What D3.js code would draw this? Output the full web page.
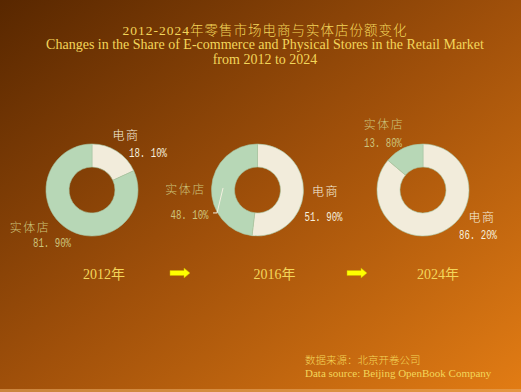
<!DOCTYPE html>
<html>
<head>
<meta charset="utf-8">
<script src="https://cdn.jsdelivr.net/npm/d3@7"></script>
<style>
  html, body { margin: 0; padding: 0; background: #5a2800; }
  svg { display: block; }
</style>
</head>
<body>
<div id="chart"></div>
<script>
// Data
const years = ["2012年", "2016年", "2024年"];
const seriesNames = ["电商", "实体店"];
const ecommerce = [18.1, 51.9, 86.2];
const physical = [81.9, 48.1, 13.8];

const width = 521, height = 392;

const svg = d3.select("#chart")
    .append("svg")
    .attr("width", width)
    .attr("height", height);

// Background gradient
const defs = svg.append("defs");
const grad = defs.append("linearGradient")
    .attr("id", "bg")
    .attr("x1", 0).attr("y1", 0)
    .attr("x2", 1).attr("y2", 1);
grad.append("stop").attr("offset", "0%").attr("stop-color", "#582700");
grad.append("stop").attr("offset", "50%").attr("stop-color", "#a0500a");
grad.append("stop").attr("offset", "100%").attr("stop-color", "#e27c14");

svg.append("rect")
    .attr("width", width)
    .attr("height", height)
    .attr("fill", "url(#bg)");

svg.append("rect")
    .attr("y", height - 3)
    .attr("width", width)
    .attr("height", 3)
    .attr("fill", "#e8a860")
    .attr("opacity", 0.6);

// Title
const serif = "'Liberation Serif', 'Noto Sans CJK SC', serif";
const gold = "#f3d65a";
const title = svg.append("text")
    .attr("text-anchor", "middle")
    .attr("fill", gold)
    .attr("font-family", serif)
    .attr("font-size", 14);
title.append("tspan").attr("x", 265).attr("y", 35)
    .attr("font-size", 13.5).attr("font-weight", 300).attr("letter-spacing", 1)
    .text("2012-2024年零售市场电商与实体店份额变化");
title.append("tspan").attr("x", 265).attr("y", 49).attr("letter-spacing", 0)
    .text("Changes in the Share of E-commerce and Physical Stores in the Retail Market");
title.append("tspan").attr("x", 265).attr("y", 64).text("from 2012 to 2024");

// Layout
const x = d3.scalePoint()
    .domain(years)
    .range([92, 423]);
const cy = 190;
const outerR = 46, innerR = 23;

const color = d3.scaleOrdinal()
    .domain(seriesNames)
    .range(["#f2ecdb", "#b7d7b6"]);
const labelColor = d3.scaleOrdinal()
    .domain(seriesNames)
    .range(["#f6f0de", "#cdc47c"]);

const pie = d3.pie()
    .sort(null)
    .value(d => d.value);
const arc = d3.arc()
    .innerRadius(innerR)
    .outerRadius(outerR);

// label offsets (name / value) from the donut center, per donut and series
const labelPos = [
    [{n: [34, -54], v: [56, -37]}, {n: [-62, 38], v: [-40, 53]}],
    [{n: [68, 2], v: [66, 27]}, {n: [-72, 0], v: [-68, 25]}],
    [{n: [59, 28], v: [55, 45]}, {n: [-39, -65], v: [-40, -47]}]
];

years.forEach((yr, i) => {
    const data = [
        {key: seriesNames[0], value: ecommerce[i]},
        {key: seriesNames[1], value: physical[i]}
    ];
    const g = svg.append("g")
        .attr("transform", `translate(${x(yr)},${cy})`);
    const arcs = pie(data);

    g.selectAll("path")
        .data(arcs)
        .join("path")
        .attr("d", arc)
        .attr("fill", d => color(d.data.key))
        .attr("stroke", "#a8c8a4")
        .attr("stroke-width", 0.6);

    arcs.forEach((a, j) => {
        const p = labelPos[i][j];
        g.append("text")
            .attr("x", p.n[0]).attr("y", p.n[1])
            .attr("dy", "0.35em")
            .attr("text-anchor", "middle")
            .attr("fill", labelColor(a.data.key))
            .attr("font-family", "'Noto Sans CJK SC', sans-serif")
            .attr("font-weight", 300)
            .attr("font-size", 12)
            .attr("letter-spacing", 1.5)
            .text(a.data.key);
        g.append("text")
            .attr("x", p.v[0]).attr("y", p.v[1])
            .attr("dy", "0.35em")
            .attr("text-anchor", "middle")
            .attr("fill", labelColor(a.data.key))
            .attr("font-family", "'Liberation Mono', monospace")
            .attr("font-size", 12)
            .attr("textLength", 38)
            .attr("lengthAdjust", "spacingAndGlyphs")
            .text(d3.format(".2f")(a.data.value).replace(".", ". ") + "%");
    });

    // leader line for the 2016 physical-store slice
    if (i === 1) {
        const c = arc.centroid(arcs[1]);
        g.append("polyline")
            .attr("points", [c, [c[0] - 6, c[1] + 25], [c[0] - 10, c[1] + 25]].map(p => p.join(",")).join(" "))
            .attr("fill", "none")
            .attr("stroke", "#f4f0e0")
            .attr("stroke-width", 1);
    }

    // year label
    svg.append("text")
        .attr("x", x(yr) + [12, 17, 15][i])
        .attr("y", 279)
        .attr("text-anchor", "middle")
        .attr("fill", gold)
        .attr("font-family", serif)
        .attr("font-size", 14)
        .text(yr);
});

// Arrows between years
const arrowX = [170, 347];
arrowX.forEach(ax => {
    svg.append("path")
        .attr("transform", `translate(${ax},273)`)
        .attr("d", "M0,-2.5 L14,-2.5 L14,-5 L20,0 L14,5 L14,2.5 L0,2.5 Z")
        .attr("fill", "#ffff00")
        .attr("stroke", "#c8b000")
        .attr("stroke-width", 0.5);
});

// Source note
const note = svg.append("text")
    .attr("fill", gold)
    .attr("font-family", serif);
note.append("tspan").attr("x", 305).attr("y", 364).attr("font-size", 10.5).attr("font-weight", 300)
    .text("数据来源：北京开卷公司");
note.append("tspan").attr("x", 305).attr("y", 377).attr("font-size", 11).text("Data source: Beijing OpenBook Company");
</script>
</body>
</html>
